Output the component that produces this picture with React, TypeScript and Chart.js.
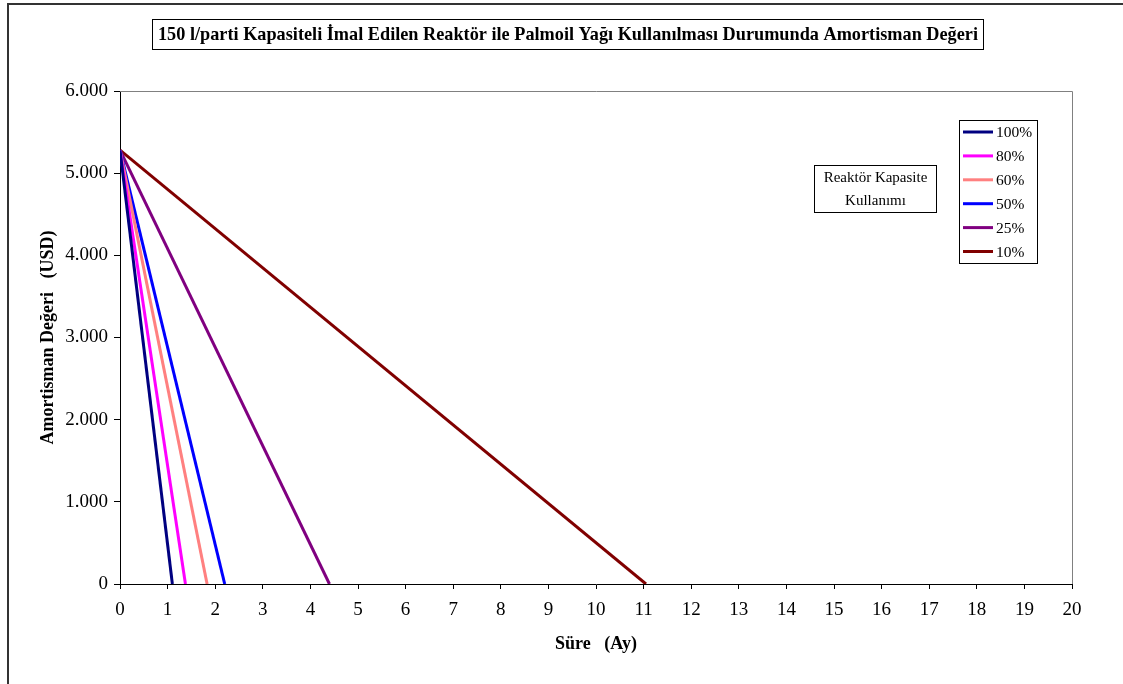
import React, { useEffect, useRef } from "react";
import { Chart, registerables } from "chart.js";

Chart.register(...registerables);

// Reactor capacity usage levels and their depreciation lines
const capacityLabels = ["100%", "80%", "60%", "50%", "25%", "10%"];
const lineColors = ["#000080", "#FF00FF", "#FF8080", "#0000FF", "#800080", "#800000"];
const initialValues = [5280, 5280, 5280, 5280, 5280, 5280];
const payoffMonths = [1.1, 1.375, 1.83, 2.2, 4.4, 11.05];

const xTickValues = Array.from({ length: 21 }, (_, i) => i);
const yTickLabels = ["0", "1.000", "2.000", "3.000", "4.000", "5.000", "6.000"];

const chartTitle =
  "150 l/parti Kapasiteli İmal Edilen Reaktör ile Palmoil Yağı Kullanılması Durumunda Amortisman Değeri";
const xAxisTitle = "Süre   (Ay)";
const yAxisTitle = "Amortisman Değeri   (USD)";
const noteLines = ["Reaktör Kapasite", "Kullanımı"];

const SERIF = '"Liberation Serif", "Times New Roman", serif';

const decorPlugin = {
  id: "decor",
  beforeDatasetsDraw(chart: any) {
    const { ctx, chartArea } = chart;
    ctx.save();
    // grey border on top and right of the plot area
    ctx.strokeStyle = "#808080";
    ctx.lineWidth = 1;
    ctx.beginPath();
    ctx.moveTo(chartArea.left, chartArea.top + 0.5);
    ctx.lineTo(chartArea.right + 0.5, chartArea.top + 0.5);
    ctx.lineTo(chartArea.right + 0.5, chartArea.bottom);
    ctx.stroke();
    ctx.restore();
  },
  afterDraw(chart: any) {
    const { ctx } = chart;
    ctx.save();

    // outer frame (top and left edges)
    ctx.strokeStyle = "#333333";
    ctx.lineWidth = 2;
    ctx.beginPath();
    ctx.moveTo(1123, 4);
    ctx.lineTo(8, 4);
    ctx.lineTo(8, 684);
    ctx.stroke();

    // title box
    ctx.lineWidth = 1;
    ctx.strokeStyle = "#000";
    ctx.fillStyle = "#fff";
    ctx.fillRect(152, 19, 831, 30);
    ctx.strokeRect(152.5, 19.5, 831, 30);
    ctx.fillStyle = "#000";
    ctx.font = `bold 19px ${SERIF}`;
    ctx.textBaseline = "middle";
    ctx.textAlign = "center";
    const tw = ctx.measureText(chartTitle).width;
    const target = 820;
    ctx.save();
    ctx.translate(568, 35);
    ctx.scale(target / tw, 1);
    ctx.fillText(chartTitle, 0, 0);
    ctx.restore();

    // note box
    ctx.strokeRect(814.5, 165.5, 122, 47);
    ctx.font = `15px ${SERIF}`;
    ctx.fillText(noteLines[0], 875.5, 178);
    ctx.fillText(noteLines[1], 875.5, 201);

    // legend
    ctx.fillStyle = "#fff";
    ctx.fillRect(959, 120, 79, 144);
    ctx.strokeStyle = "#000";
    ctx.strokeRect(959.5, 120.5, 78, 143);
    ctx.textAlign = "left";
    ctx.fillStyle = "#000";
    ctx.font = `15.5px ${SERIF}`;
    chart.data.datasets.forEach((ds: any, i: number) => {
      const y = 132 + i * 23.9;
      ctx.strokeStyle = ds.borderColor;
      ctx.lineWidth = 3;
      ctx.beginPath();
      ctx.moveTo(963, y);
      ctx.lineTo(993, y);
      ctx.stroke();
      ctx.fillText(ds.label, 996, y + 1);
    });

    ctx.restore();
  },
};

export default function App() {
  const canvasRef = useRef<HTMLCanvasElement>(null);

  useEffect(() => {
    const canvas = canvasRef.current;
    if (!canvas) return;

    const datasets = capacityLabels.map((label, i) => ({
      label,
      data: [
        { x: 0, y: initialValues[i] },
        { x: payoffMonths[i], y: 0 },
      ],
      borderColor: lineColors[i],
      backgroundColor: lineColors[i],
      borderWidth: 3,
      pointRadius: 0,
      showLine: true,
      fill: false,
      tension: 0,
    }));

    const chart = new Chart(canvas, {
      type: "scatter",
      data: { datasets },
      plugins: [decorPlugin],
      options: {
        responsive: false,
        animation: false,
        events: [],
        layout: { padding: { left: 0, top: 91, right: 51, bottom: 0 } },
        plugins: {
          legend: { display: false },
          title: { display: false },
          tooltip: { enabled: false },
        },
        scales: {
          x: {
            type: "linear",
            min: 0,
            max: 20,
            afterBuildTicks: (scale: any) => {
              scale.ticks = xTickValues.map((v) => ({ value: v }));
            },
            afterFit: (scale: any) => {
              scale.height = 100;
            },
            ticks: {
              color: "#000",
              font: { family: SERIF, size: 19 },
              padding: 10,
              maxRotation: 0,
              autoSkip: false,
            },
            grid: {
              drawOnChartArea: false,
              drawTicks: true,
              tickLength: 5,
              color: "#000",
            },
            border: { color: "#000", width: 1 },
            title: {
              display: true,
              text: xAxisTitle,
              color: "#000",
              font: { family: SERIF, size: 18, weight: "bold" },
              padding: { top: 0, bottom: 29 },
            },
          },
          y: {
            type: "linear",
            min: 0,
            max: 6000,
            ticks: {
              stepSize: 1000,
              color: "#000",
              font: { family: SERIF, size: 19 },
              padding: 6,
              callback: (value: any) => yTickLabels[Math.round(Number(value) / 1000)],
            },
            afterFit: (scale: any) => {
              scale.width = 120;
            },
            grid: {
              drawOnChartArea: false,
              drawTicks: true,
              tickLength: 6,
              color: "#000",
            },
            border: { color: "#000", width: 1 },
            title: {
              display: true,
              text: yAxisTitle,
              color: "#000",
              font: { family: SERIF, size: 18, weight: "bold" },
              padding: { top: 38, bottom: 0 },
            },
          },
        },
      },
    });

    return () => chart.destroy();
  }, []);

  return (
    <div style={{ position: "fixed", left: 0, top: 0, width: 1123, height: 684, background: "#fff" }}>
      <canvas ref={canvasRef} width={1123} height={684} style={{ width: 1123, height: 684, display: "block" }} />
    </div>
  );
}
